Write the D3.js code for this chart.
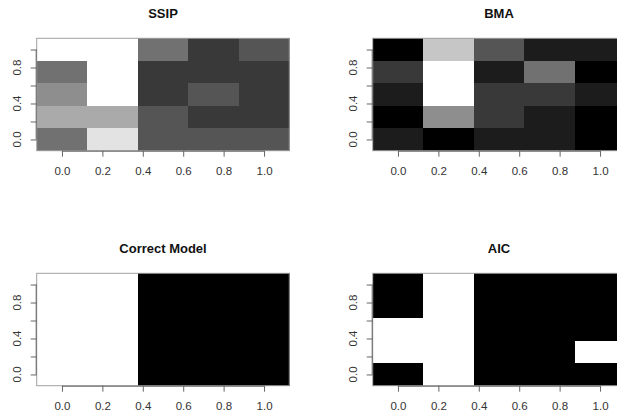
<!DOCTYPE html>
<html>
<head>
<meta charset="utf-8">
<script src="https://cdn.jsdelivr.net/npm/d3@7"></script>
<style>
  body { margin: 0; background: #fff; }
  svg { display: block; font-family: "Liberation Sans", Arial, sans-serif; }
</style>
</head>
<body>
<div id="g-container"></div>
<script>
	// grid centres (same on both axes)
	var xs = [0, 0.25, 0.5, 0.75, 1.0]
	var ys = [1.0, 0.75, 0.5, 0.25, 0]   // rows listed top to bottom
	var xTicks = [0, 0.2, 0.4, 0.6, 0.8, 1.0]
	var yTicks = [0, 0.2, 0.4, 0.6, 0.8, 1.0]
	var yLabels = [0, 0.4, 0.8]

	// grey levels 0 (black) .. 9 (white), one row per ys entry
	var ssip = [
		[9, 9, 4, 2, 3],
		[4, 9, 2, 2, 2],
		[5, 9, 2, 3, 2],
		[6, 6, 3, 2, 2],
		[4, 8, 3, 3, 3]
	]
	var bma = [
		[0, 7, 3, 1, 1],
		[2, 9, 1, 4, 0],
		[1, 9, 2, 2, 1],
		[0, 5, 2, 1, 0],
		[1, 0, 1, 1, 0]
	]
	var correct = [
		[9, 9, 0, 0, 0],
		[9, 9, 0, 0, 0],
		[9, 9, 0, 0, 0],
		[9, 9, 0, 0, 0],
		[9, 9, 0, 0, 0]
	]
	var aic = [
		[0, 9, 0, 0, 0],
		[0, 9, 0, 0, 0],
		[9, 9, 0, 0, 0],
		[9, 9, 0, 0, 9],
		[0, 9, 0, 0, 0]
	]
	var titles = ["SSIP", "BMA", "Correct Model", "AIC"]
	var panels = [ssip, bma, correct, aic]

	var width = 617, height = 414
	var svg = d3.select("#g-container").append("svg").attr("width", width).attr("height", height)

	var grey = d3.scaleLinear().domain([0, 9]).range(["#000000", "#ffffff"])

	// plot box of the first panel, others are shifted
	var box = {left: 36.7, right: 289.3, top: 38.3, bottom: 150.7}
	var dx = 336, dy = 235
	var half = 0.125

	panels.forEach(function(z, i){
		var ox = (i % 2) * dx
		var oy = Math.floor(i / 2) * dy
		var g = svg.append("g").attr("transform", "translate(" + ox + "," + oy + ")")

		var x = d3.scaleLinear().domain([-half, 1 + half]).range([box.left, box.right])
		var y = d3.scaleLinear().domain([-half, 1 + half]).range([box.bottom, box.top])

		var cells = []
		z.forEach(function(row, r){
			row.forEach(function(v, c){
				cells.push({x: xs[c], y: ys[r], v: v})
			})
		})

		g.append("g").selectAll("rect").data(cells).enter().append("rect")
			.attr("x", function(d){ return x(d.x - half) })
			.attr("y", function(d){ return y(d.y + half) })
			.attr("width", function(d){ return x(d.x + half) - x(d.x - half) + 0.3 })
			.attr("height", function(d){ return y(d.y - half) - y(d.y + half) + 0.3 })
			.attr("fill", function(d){ return grey(d.v) })
			.attr("shape-rendering", "crispEdges")

		g.append("rect")
			.attr("x", box.left).attr("y", box.top)
			.attr("width", box.right - box.left).attr("height", box.bottom - box.top)
			.attr("fill", "none").attr("stroke", "#a0a0a0").attr("stroke-width", 1)

		// x axis
		var xa = g.append("g").attr("transform", "translate(0," + box.bottom + ")")
			.call(d3.axisBottom(x).tickValues(xTicks).tickSize(6).tickPadding(10).tickFormat(d3.format(".1f")))
		xa.select(".domain").attr("stroke", "#666").attr("d", "M" + x(0) + ",0.5H" + x(1))
		xa.selectAll(".tick line").attr("stroke", "#666")
		xa.selectAll(".tick text").attr("fill", "#333").style("font-size", "11.5px").style("font-family", "Liberation Sans, Arial, sans-serif")

		// y axis
		var ya = g.append("g").attr("transform", "translate(" + box.left + ",0)")
			.call(d3.axisLeft(y).tickValues(yTicks).tickSize(6).tickFormat(""))
		ya.select(".domain").attr("stroke", "#666").attr("d", "M-0.5," + y(0) + "V" + y(1))
		ya.selectAll(".tick line").attr("stroke", "#666")

		g.append("g").selectAll("text").data(yLabels).enter().append("text")
			.attr("transform", function(d){ return "translate(20.7," + y(d) + ") rotate(-90)" })
			.attr("text-anchor", "middle")
			.style("font-size", "11.5px")
			.style("fill", "#333")
			.text(function(d){ return d3.format(".1f")(d) })

		g.append("text")
			.attr("x", (box.left + box.right) / 2)
			.attr("y", 17.5)
			.attr("text-anchor", "middle")
			.style("font-size", "13px")
			.style("font-weight", "bold")
			.style("fill", "#111")
			.text(titles[i])
	})
</script>
</body>
</html>
